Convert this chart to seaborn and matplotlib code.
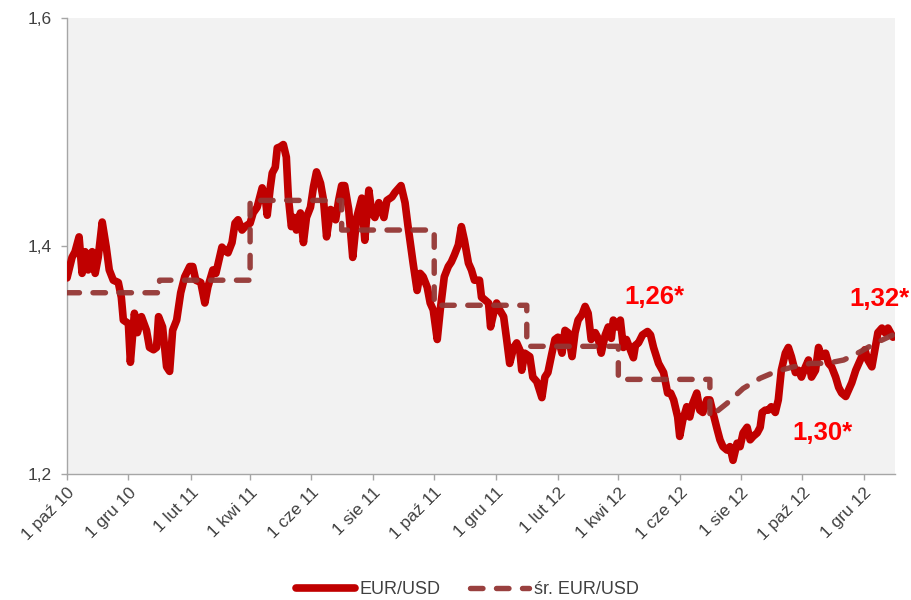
import matplotlib
matplotlib.use("Agg")
import matplotlib.pyplot as plt
import pandas as pd
import seaborn as sns

# ---------------- data ----------------
dates = [
    "2010-10-01", "2010-10-06", "2010-10-09", "2010-10-13", "2010-10-16", "2010-10-19", "2010-10-22",
    "2010-10-26", "2010-10-29", "2010-11-01", "2010-11-05", "2010-11-09", "2010-11-12", "2010-11-16",
    "2010-11-21", "2010-11-24", "2010-11-26", "2010-12-01", "2010-12-03", "2010-12-07", "2010-12-10",
    "2010-12-14", "2010-12-19", "2010-12-22", "2010-12-26", "2010-12-29", "2010-12-31", "2011-01-04",
    "2011-01-08", "2011-01-11", "2011-01-14", "2011-01-18", "2011-01-22", "2011-01-26", "2011-01-31",
    "2011-02-03", "2011-02-06", "2011-02-11", "2011-02-15", "2011-02-18", "2011-02-23", "2011-02-26",
    "2011-03-04", "2011-03-07", "2011-03-10", "2011-03-14", "2011-03-17", "2011-03-20", "2011-03-24",
    "2011-03-27", "2011-04-01", "2011-04-04", "2011-04-08", "2011-04-13", "2011-04-16", "2011-04-18",
    "2011-04-21", "2011-04-23", "2011-04-26", "2011-04-28", "2011-05-01", "2011-05-04", "2011-05-07",
    "2011-05-09", "2011-05-12", "2011-05-15", "2011-05-17", "2011-05-21", "2011-05-24", "2011-05-27",
    "2011-05-31", "2011-06-03", "2011-06-06", "2011-06-10", "2011-06-13", "2011-06-16", "2011-06-20",
    "2011-06-25", "2011-06-28", "2011-07-01", "2011-07-04", "2011-07-08", "2011-07-12", "2011-07-16",
    "2011-07-21", "2011-07-24", "2011-07-28", "2011-07-31", "2011-08-03", "2011-08-07", "2011-08-12",
    "2011-08-15", "2011-08-20", "2011-08-23", "2011-08-29", "2011-09-02", "2011-09-05", "2011-09-10",
    "2011-09-14", "2011-09-17", "2011-09-20", "2011-09-24", "2011-09-27", "2011-09-30", "2011-10-04",
    "2011-10-07", "2011-10-11", "2011-10-15", "2011-10-18", "2011-10-21", "2011-10-25", "2011-10-28",
    "2011-10-31", "2011-11-04", "2011-11-07", "2011-11-10", "2011-11-15", "2011-11-17", "2011-11-20",
    "2011-11-24", "2011-11-26", "2011-11-29", "2011-12-02", "2011-12-05", "2011-12-09", "2011-12-12",
    "2011-12-15", "2011-12-19", "2011-12-22", "2011-12-25", "2011-12-27", "2011-12-30", "2012-01-04",
    "2012-01-07", "2012-01-11", "2012-01-16", "2012-01-19", "2012-01-22", "2012-01-26", "2012-01-29",
    "2012-02-01", "2012-02-05", "2012-02-08", "2012-02-11", "2012-02-15", "2012-02-18", "2012-02-21",
    "2012-02-25", "2012-02-28", "2012-03-02", "2012-03-05", "2012-03-09", "2012-03-12", "2012-03-15",
    "2012-03-19", "2012-03-22", "2012-03-25", "2012-03-27", "2012-03-30", "2012-04-03", "2012-04-06",
    "2012-04-09", "2012-04-13", "2012-04-16", "2012-04-18", "2012-04-21", "2012-04-25", "2012-04-30",
    "2012-05-03", "2012-05-06", "2012-05-11", "2012-05-16", "2012-05-20", "2012-05-23", "2012-05-26",
    "2012-05-30", "2012-06-01", "2012-06-04", "2012-06-08", "2012-06-11", "2012-06-14", "2012-06-18",
    "2012-06-21", "2012-06-24", "2012-06-28", "2012-07-01", "2012-07-04", "2012-07-08", "2012-07-11",
    "2012-07-14", "2012-07-18", "2012-07-21", "2012-07-24", "2012-07-28", "2012-07-31", "2012-08-03",
    "2012-08-07", "2012-08-10", "2012-08-13", "2012-08-17", "2012-08-20", "2012-08-22", "2012-08-25",
    "2012-08-28", "2012-08-31", "2012-09-04", "2012-09-07", "2012-09-10", "2012-09-14", "2012-09-17",
    "2012-09-20", "2012-09-24", "2012-09-27", "2012-09-30", "2012-10-04", "2012-10-07", "2012-10-10",
    "2012-10-14", "2012-10-17", "2012-10-20", "2012-10-24", "2012-10-27", "2012-10-30", "2012-11-03",
    "2012-11-06", "2012-11-09", "2012-11-13", "2012-11-16", "2012-11-19", "2012-11-23", "2012-11-26",
    "2012-11-29", "2012-12-02", "2012-12-05", "2012-12-09", "2012-12-12", "2012-12-15", "2012-12-19",
    "2012-12-22", "2012-12-25", "2012-12-30",
]
eurusd = [
    1.372, 1.390, 1.395, 1.408, 1.376, 1.395, 1.379,
    1.395, 1.376, 1.390, 1.421, 1.399, 1.379, 1.370,
    1.368, 1.355, 1.335, 1.332, 1.298, 1.341, 1.324,
    1.338, 1.326, 1.311, 1.309, 1.311, 1.338, 1.329,
    1.294, 1.290, 1.326, 1.335, 1.359, 1.373, 1.382,
    1.382, 1.370, 1.368, 1.350, 1.364, 1.379, 1.376,
    1.399, 1.396, 1.394, 1.403, 1.420, 1.423, 1.414,
    1.417, 1.420, 1.429, 1.434, 1.451, 1.443, 1.427,
    1.451, 1.464, 1.469, 1.486, 1.487, 1.489, 1.478,
    1.443, 1.417, 1.425, 1.414, 1.429, 1.403, 1.425,
    1.434, 1.452, 1.465, 1.455, 1.440, 1.408, 1.432,
    1.423, 1.440, 1.453, 1.453, 1.432, 1.390, 1.425,
    1.442, 1.405, 1.449, 1.429, 1.425, 1.438, 1.425,
    1.440, 1.443, 1.447, 1.453, 1.438, 1.417, 1.385,
    1.361, 1.376, 1.373, 1.364, 1.350, 1.344, 1.318,
    1.344, 1.373, 1.382, 1.386, 1.392, 1.401, 1.417,
    1.405, 1.385, 1.379, 1.370, 1.370, 1.355, 1.353,
    1.350, 1.329, 1.341, 1.350, 1.344, 1.338, 1.318,
    1.297, 1.311, 1.315, 1.309, 1.291, 1.306, 1.303,
    1.285, 1.281, 1.267, 1.285, 1.289, 1.306, 1.318,
    1.320, 1.306, 1.326, 1.324, 1.303, 1.324, 1.335,
    1.340, 1.347, 1.341, 1.318, 1.324, 1.319, 1.306,
    1.322, 1.329, 1.319, 1.335, 1.329, 1.335, 1.311,
    1.318, 1.309, 1.302, 1.313, 1.315, 1.322, 1.325,
    1.322, 1.311, 1.297, 1.289, 1.271, 1.271, 1.265,
    1.250, 1.233, 1.247, 1.259, 1.250, 1.262, 1.271,
    1.256, 1.254, 1.265, 1.265, 1.254, 1.240, 1.230,
    1.224, 1.221, 1.224, 1.212, 1.227, 1.224, 1.236,
    1.241, 1.230, 1.233, 1.236, 1.241, 1.254, 1.256,
    1.256, 1.259, 1.254, 1.265, 1.291, 1.306, 1.311,
    1.303, 1.289, 1.291, 1.285, 1.294, 1.300, 1.285,
    1.291, 1.311, 1.303, 1.306, 1.297, 1.294, 1.285,
    1.276, 1.271, 1.268, 1.274, 1.280, 1.291, 1.297,
    1.303, 1.309, 1.300, 1.294, 1.309, 1.324, 1.328,
    1.324, 1.328, 1.320,
]

avg_dates = [
    "2010-10-01", "2011-01-01", "2011-01-01", "2011-04-01", "2011-04-01", "2011-07-01",
    "2011-07-01", "2011-10-01", "2011-10-01", "2012-01-01", "2012-01-01", "2012-04-01",
    "2012-04-01", "2012-07-01", "2012-07-01", "2012-07-18", "2012-08-03", "2012-08-20",
    "2012-09-05", "2012-09-22", "2012-10-09", "2012-10-25", "2012-11-11", "2012-11-27",
    "2012-12-13", "2012-12-30",
]
avg_eurusd = [
    1.359, 1.359, 1.370, 1.370, 1.440, 1.440,
    1.414, 1.414, 1.348, 1.348, 1.312, 1.312,
    1.283, 1.283, 1.250, 1.262, 1.275, 1.284,
    1.290, 1.294, 1.297, 1.297, 1.300, 1.307,
    1.315, 1.322,
]

tick_dates = ["2010-10-01", "2010-12-01", "2011-02-01", "2011-04-01", "2011-06-01", "2011-08-01",
              "2011-10-01", "2011-12-01", "2012-02-01", "2012-04-01", "2012-06-01", "2012-08-01",
              "2012-10-01", "2012-12-01"]
tick_labels = ["1 paź 10", "1 gru 10", "1 lut 11", "1 kwi 11", "1 cze 11", "1 sie 11",
               "1 paź 11", "1 gru 11", "1 lut 12", "1 kwi 12", "1 cze 12", "1 sie 12",
               "1 paź 12", "1 gru 12"]
y_ticks = [1.2, 1.4, 1.6]
y_tick_labels = ["1,2", "1,4", "1,6"]
series_names = ["EUR/USD", "śr. EUR/USD"]
notes = ["1,26*", "1,32*", "1,30*"]

# ---------------- style ----------------
sns.set_style("white")
plt.rcParams["font.family"] = ["Liberation Sans", "DejaVu Sans"]

RED = "#c00000"
AVG = "#943634"
GREY_TXT = "#404040"
AX_GREY = "#a6a6a6"

fig = plt.figure(figsize=(9.11, 6.0), dpi=100)
ax = fig.add_axes([67 / 911, 1 - 474 / 600, 828 / 911, 456 / 600])
ax.set_facecolor("#f2f2f2")

df = pd.DataFrame({"date": pd.to_datetime(dates), "value": eurusd})
df_avg = pd.DataFrame({"date": pd.to_datetime(avg_dates), "value": avg_eurusd})

sns.lineplot(data=df, x="date", y="value", ax=ax, color=RED, linewidth=5.5,
             estimator=None, sort=False, label=series_names[0],
             solid_joinstyle="round", solid_capstyle="round", zorder=3)
sns.lineplot(data=df_avg, x="date", y="value", ax=ax, color=AVG, linewidth=3.9,
             estimator=None, sort=False, label=series_names[1], zorder=4)
avg_line = ax.lines[-1]
avg_line.set_dashes([2.3, 2.5])
avg_line.set_dash_capstyle("round")
avg_line.set_alpha(0.95)

ax.set_xlim(pd.Timestamp("2010-10-01"), pd.Timestamp("2013-01-01"))
ax.set_ylim(1.2, 1.6)
ax.set_yticks(y_ticks)
ax.set_yticklabels(y_tick_labels)
ax.set_xticks(pd.to_datetime(tick_dates))
ax.set_xticklabels(tick_labels, rotation=45, ha="right", rotation_mode="anchor")
ax.set_xlabel("")
ax.set_ylabel("")

for s in ["top", "right"]:
    ax.spines[s].set_visible(False)
for s in ["left", "bottom"]:
    ax.spines[s].set_color(AX_GREY)
    ax.spines[s].set_linewidth(1.0)

ax.tick_params(axis="both", which="major", bottom=True, left=True, direction="out",
               length=4, width=1, color=AX_GREY, labelsize=12.5, labelcolor=GREY_TXT)
ax.tick_params(axis="y", pad=7)
ax.tick_params(axis="x", pad=4)

# annotations
ax.text(0.710, 0.388, notes[0], transform=ax.transAxes, ha="center", va="center",
        color="#ff0000", fontsize=18.5, fontweight="bold")
ax.text(0.981, 0.384, notes[1], transform=ax.transAxes, ha="center", va="center",
        color="#ff0000", fontsize=18.5, fontweight="bold", clip_on=False)
ax.text(0.912, 0.090, notes[2], transform=ax.transAxes, ha="center", va="center",
        color="#ff0000", fontsize=18.5, fontweight="bold")

# legend
handles, labels = ax.get_legend_handles_labels()
if ax.get_legend() is not None:
    ax.get_legend().remove()
leg = fig.legend(handles, labels, loc="center", bbox_to_anchor=(0.513, 0.017), ncol=2,
                 frameon=False, fontsize=13, handlelength=3.3, handletextpad=0.25,
                 columnspacing=1.6)
for t in leg.get_texts():
    t.set_color(GREY_TXT)

fig.savefig("out.png", dpi=100)
